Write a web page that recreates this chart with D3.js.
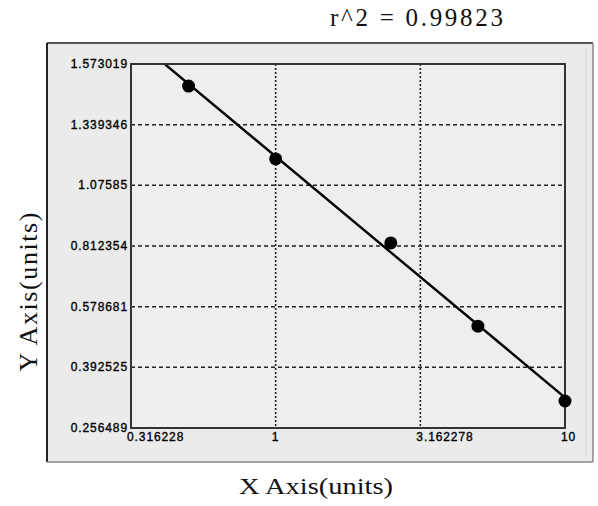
<!DOCTYPE html>
<html>
<head>
<meta charset="utf-8">
<script src="https://cdn.jsdelivr.net/npm/d3@7"></script>
<style>
  html, body { margin: 0; padding: 0; background: #ffffff; }
  svg { display: block; }
</style>
</head>
<body>
<script>
// ---- data ----
const xValues = [0.5, 1, 2.5, 5, 10];
const yValues = [1.409, 0.980, 0.645, 0.426, 0.2934];
const xTickValues = [0.316228, 1, 3.162278, 10];
const xTickLabels = ["0.316228", "1", "3.162278", "10"];
const yTickLabels = ["0.256489", "0.392525", "0.578681", "0.812354", "1.07585", "1.339346", "1.573019"];
const titleText = "r^2 = 0.99823";
const xTitle = "X Axis(units)";
const yTitle = "Y Axis(units)";

const W = 598, H = 506;
const plot = { left: 131, right: 565, top: 64, bottom: 428 };

const svg = d3.select("body").append("svg").attr("width", W).attr("height", H);

// outer panel
svg.append("rect").attr("x", 47).attr("y", 43).attr("width", 546).attr("height", 419)
  .attr("fill", "#ebebeb").attr("stroke", "none");
svg.append("line").attr("x1", 47).attr("y1", 43).attr("x2", 593).attr("y2", 43).attr("stroke", "#555").attr("stroke-width", 2);
svg.append("line").attr("x1", 47).attr("y1", 43).attr("x2", 47).attr("y2", 462).attr("stroke", "#222").attr("stroke-width", 2);
svg.append("line").attr("x1", 593).attr("y1", 43).attr("x2", 593).attr("y2", 462).attr("stroke", "#888").attr("stroke-width", 1.5);
svg.append("line").attr("x1", 47).attr("y1", 462).attr("x2", 593).attr("y2", 462).attr("stroke", "#888").attr("stroke-width", 1.5);
svg.append("line").attr("x1", 586).attr("y1", 47).attr("x2", 586).attr("y2", 458).attr("stroke", "#d4d4d4").attr("stroke-width", 1);

// scales
const x = d3.scaleLog().domain([xTickValues[0], xTickValues[xTickValues.length - 1]]).range([plot.left, plot.right]);
const y = d3.scaleLog().domain([+yTickLabels[0], +yTickLabels[yTickLabels.length - 1]]).range([plot.bottom, plot.top]);
const yIdx = d3.scaleLinear().domain([0, yTickLabels.length - 1]).range([plot.bottom, plot.top]);

// plot area
svg.append("rect").attr("x", plot.left).attr("y", plot.top)
  .attr("width", plot.right - plot.left).attr("height", plot.bottom - plot.top)
  .attr("fill", "#eeeeee");

// grid
const grid = svg.append("g");
yTickLabels.forEach((t, i) => {
  if (i === 0 || i === yTickLabels.length - 1) return;
  grid.append("line").attr("x1", plot.left).attr("x2", plot.right)
    .attr("y1", yIdx(i)).attr("y2", yIdx(i))
    .attr("stroke", "#222").attr("stroke-width", 1.5).attr("stroke-dasharray", "4,3");
});
xTickValues.forEach((t, i) => {
  if (i === 0 || i === xTickValues.length - 1) return;
  grid.append("line").attr("x1", x(t)).attr("x2", x(t))
    .attr("y1", plot.top).attr("y2", plot.bottom)
    .attr("stroke", "#222").attr("stroke-width", 1.6).attr("stroke-dasharray", "2,2");
});

// fit line (least squares in log-log)
const lx = xValues.map(Math.log10), ly = yValues.map(Math.log10);
const mx = d3.mean(lx), my = d3.mean(ly);
const slope = d3.sum(lx.map((v, i) => (v - mx) * (ly[i] - my))) / d3.sum(lx.map(v => (v - mx) * (v - mx)));
const icpt = my - slope * mx;
const fitX = [xTickValues[0], xTickValues[xTickValues.length - 1]];
const fitPts = fitX.map(v => [v, Math.pow(10, icpt + slope * Math.log10(v))]);

svg.append("clipPath").attr("id", "clip").append("rect")
  .attr("x", plot.left).attr("y", plot.top)
  .attr("width", plot.right - plot.left).attr("height", plot.bottom - plot.top);

svg.append("path").datum(fitPts)
  .attr("clip-path", "url(#clip)")
  .attr("d", d3.line().x(d => x(d[0])).y(d => y(d[1])))
  .attr("fill", "none").attr("stroke", "#000").attr("stroke-width", 2.4);

// plot border
svg.append("rect").attr("x", plot.left).attr("y", plot.top)
  .attr("width", plot.right - plot.left).attr("height", plot.bottom - plot.top)
  .attr("fill", "none").attr("stroke", "#333").attr("stroke-width", 2);

// points
svg.append("g").selectAll("circle").data(xValues).join("circle")
  .attr("cx", d => x(d)).attr("cy", (d, i) => y(yValues[i]))
  .attr("r", 6.5).attr("fill", "#000");

// tick labels
const lblFont = "'Liberation Sans', Arial, sans-serif";
svg.append("g").selectAll("text").data(yTickLabels).join("text")
  .attr("x", plot.left - 3).attr("y", (d, i) => yIdx(i))
  .attr("text-anchor", "end").attr("dominant-baseline", "central")
  .attr("font-family", lblFont).attr("font-size", 12).attr("letter-spacing", "0.9px")
  .attr("fill", "#000").attr("stroke", "#000").attr("stroke-width", 0.35)
  .text(d => d);

svg.append("g").selectAll("text").data(xTickValues).join("text")
  .attr("x", d => x(d) - 4).attr("y", 441)
  .attr("text-anchor", "start")
  .attr("font-family", lblFont).attr("font-size", 12).attr("letter-spacing", "0.9px")
  .attr("fill", "#000").attr("stroke", "#000").attr("stroke-width", 0.35)
  .text((d, i) => xTickLabels[i]);

// titles
const serif = "'Liberation Serif', 'Times New Roman', serif";
svg.append("text").attr("x", 330).attr("y", 26)
  .attr("font-family", serif).attr("font-size", 25)
  .attr("textLength", 173).attr("lengthAdjust", "spacing")
  .attr("fill", "#111").text(titleText);

svg.append("text").attr("x", 239).attr("y", 494)
  .attr("font-family", serif).attr("font-size", 24)
  .attr("textLength", 154).attr("lengthAdjust", "spacingAndGlyphs")
  .attr("fill", "#111").text(xTitle);

svg.append("text").attr("transform", "translate(37,292) rotate(-90)")
  .attr("x", -79.5)
  .attr("font-family", serif).attr("font-size", 26)
  .attr("textLength", 159).attr("lengthAdjust", "spacing")
  .attr("fill", "#111").text(yTitle);
</script>
</body>
</html>
